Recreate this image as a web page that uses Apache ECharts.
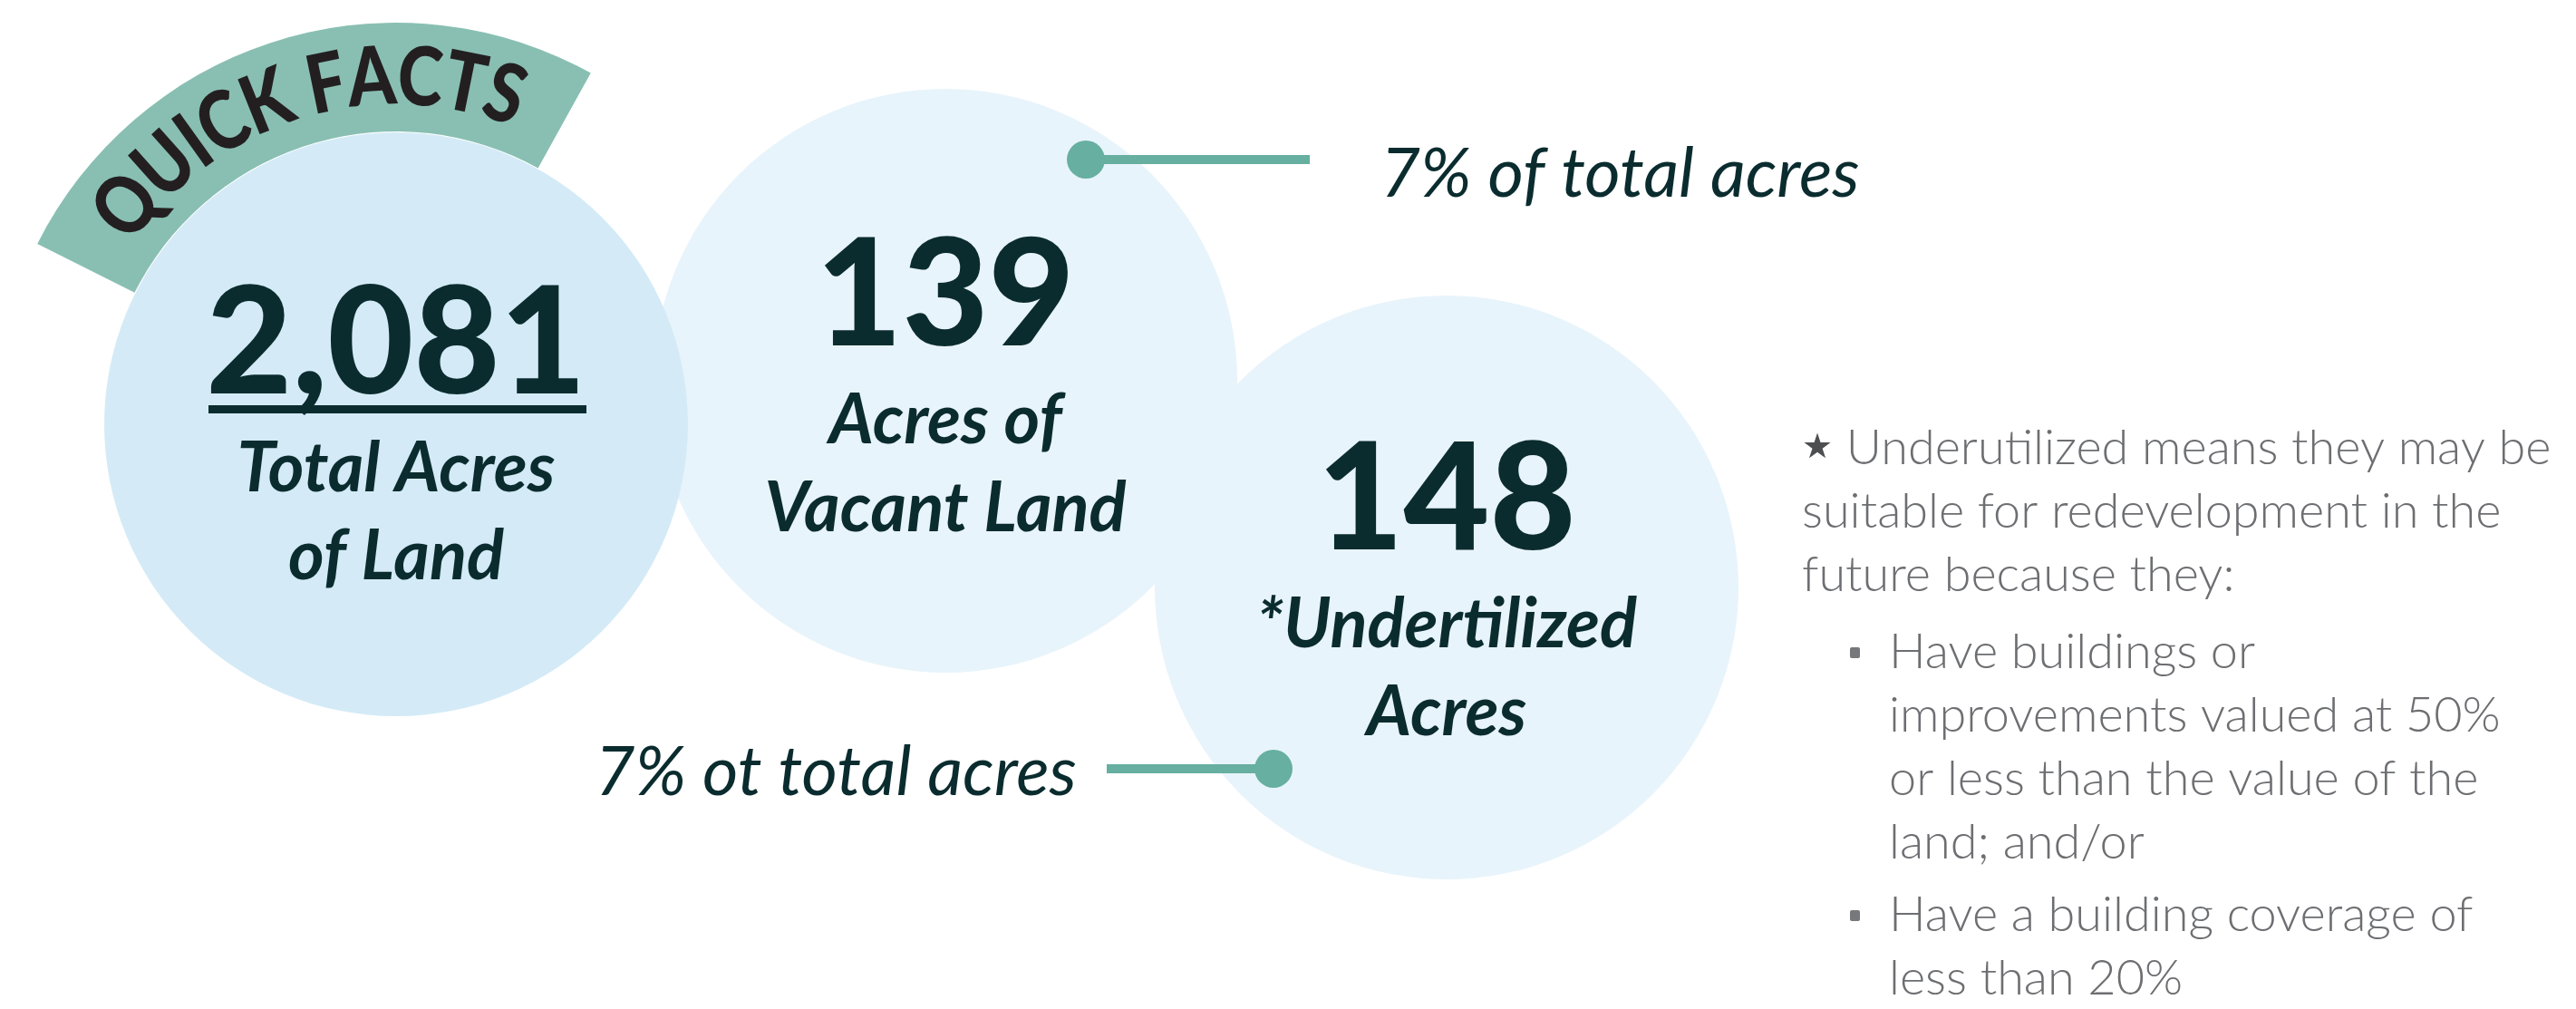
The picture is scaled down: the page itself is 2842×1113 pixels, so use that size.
<!DOCTYPE html>
<html>
<head>
<meta charset="utf-8">
<title>Quick Facts</title>
<script src="https://cdn.jsdelivr.net/npm/echarts@6/dist/echarts.min.js"></script>
<style>
  html, body { margin: 0; padding: 0; background: #ffffff; }
  #quickFacts { width: 2842px; height: 1113px; }
</style>
</head>
<body>
<div id="quickFacts"></div>
<script>
// the facts
var factValues = [2081, 139, 148]
var factLabels = [['Total Acres', 'of Land'], ['Acres of', 'Vacant Land'], ['*Undertilized', 'Acres']]
var shareLabels = ['7% of total acres', '7% ot total acres']
var badgeText = 'QUICK FACTS'
var noteIntro = ['Underutilized means they may be', 'suitable for redevelopment in the', 'future because they:']
var noteBullets = [
  ['Have buildings or', 'improvements valued at 50%', 'or less than the value of the', 'land; and/or'],
  ['Have a building coverage of', 'less than 20%']
]

var W = 2842
var H = 1113
var dark = '#0b2c2f'
var teal = '#67afa0'
var noteGrey = '#6d6e71'

// layout (pixel space: axes run 0..W and 0..H)
var bubbleR = 322
var bubblePos = [[437, 468], [1043, 420], [1596, 648]]
var bubbleFill = ['#d4ebf7', '#e8f4fb', '#e8f4fb']
var labelShift = [10, 5, 2]
var connectors = [
  { from: [1198, 176], to: [1445, 176], text: [1523, 192], side: 'right' },
  { from: [1405, 848], to: [1221, 848], text: [1188, 852], side: 'left' }
]

var chart = echarts.init(document.getElementById('quickFacts'))

function bubbleItem (i) {
  var num = echarts.format.addCommas(factValues[i])
  var lines = factLabels[i].map(function (t) { return '{lbl|' + t + '}' })
  return {
    value: bubblePos[i],
    itemStyle: { color: bubbleFill[i], opacity: 1 },
    label: {
      show: true,
      position: 'inside',
      offset: [0, labelShift[i]],
      formatter: ['{num|' + num + '}'].concat(lines).join('\n'),
      rich: {
        num: { fontFamily: 'Lato', fontWeight: 900, fontSize: 164, lineHeight: 175, color: dark, align: 'center' },
        lbl: { fontFamily: 'Lato', fontStyle: 'italic', fontWeight: 700, fontSize: 76, lineHeight: 97, color: dark, align: 'center' }
      }
    }
  }
}

// circle 1 sits on top of the other two
var bubbles = [bubbleItem(1), bubbleItem(2), bubbleItem(0)]

// curved badge text
var badgeC = bubblePos[0]
var badgeFont = '900 90px Lato'
var ctx = document.createElement('canvas').getContext('2d')
ctx.font = badgeFont
var widths = badgeText.split('').map(function (ch) { return ctx.measureText(ch).width })
var centers = []
var acc = 0
widths.forEach(function (w) { centers.push(acc + w / 2); acc += w })
var a0 = 141
var a1 = 71.7
var badgeLetters = []
badgeText.split('').forEach(function (ch, i) {
  if (ch === ' ') return
  var t = (centers[i] - centers[0]) / (centers[centers.length - 1] - centers[0])
  var deg = a0 + (a1 - a0) * t
  var rad = deg * Math.PI / 180
  badgeLetters.push({
    type: 'text',
    x: badgeC[0] + 382 * Math.cos(rad),
    y: badgeC[1] - 382 * Math.sin(rad),
    rotation: (deg - 90) * Math.PI / 180,
    scaleX: 0.84,
    z: 101,
    style: { text: ch, font: badgeFont, fill: '#231f20', align: 'center', verticalAlign: 'middle' }
  })
})

// footnote text
var noteEls = []
var ny = 495
noteIntro.forEach(function (line, i) {
  noteEls.push({
    type: 'text', x: 1988, y: ny, z: 100,
    style: {
      text: i === 0 ? '{star|★} ' + line : line,
      font: '300 54px Lato', fill: noteGrey, verticalAlign: 'middle',
      rich: { star: { fontSize: 38, fontFamily: 'DejaVu Sans', fill: '#4d4e50', verticalAlign: 'middle' } }
    }
  })
  ny += 70
})
ny += 15
noteBullets.forEach(function (group) {
  group.forEach(function (line, j) {
    if (j === 0) {
      noteEls.push({ type: 'rect', z: 100, shape: { x: 2041, y: ny - 6, width: 11, height: 12, r: 2 }, style: { fill: '#77787b' } })
    }
    noteEls.push({
      type: 'text', x: 2084, y: ny, z: 100,
      style: { text: line, font: '300 54px Lato', fill: noteGrey, verticalAlign: 'middle' }
    })
    ny += 70
  })
  ny += 10
})

var option = {
  animation: false,
  grid: { left: 0, right: 0, top: 0, bottom: 0 },
  xAxis: { type: 'value', min: 0, max: W, show: false },
  yAxis: { type: 'value', min: 0, max: H, inverse: true, show: false },
  series: [
    {
      type: 'scatter',
      silent: true,
      symbol: 'circle',
      symbolSize: bubbleR * 2,
      itemStyle: { opacity: 1 },
      data: bubbles,
      z: 2
    },
    {
      type: 'lines',
      coordinateSystem: 'cartesian2d',
      silent: true,
      lineStyle: { color: teal, width: 10, opacity: 1 },
      data: connectors.map(function (c) { return { coords: [c.from, c.to] } }),
      z: 3
    },
    {
      type: 'scatter',
      silent: true,
      symbol: 'circle',
      symbolSize: 42,
      itemStyle: { color: teal, opacity: 1 },
      data: connectors.map(function (c) { return c.from }),
      z: 4
    },
    {
      type: 'scatter',
      silent: true,
      symbolSize: 0,
      itemStyle: { opacity: 1 },
      data: connectors.map(function (c, i) {
        return {
          value: c.text,
          label: {
            show: true,
            position: c.side === 'right' ? 'right' : 'left',
            distance: 0,
            formatter: shareLabels[i],
            fontFamily: 'Lato',
            fontStyle: 'italic',
            fontWeight: 400,
            fontSize: 76,
            color: dark
          }
        }
      }),
      z: 4
    }
  ],
  graphic: [
    {
      type: 'group',
      children: [
        {
          type: 'sector',
          z: 100,
          shape: {
            cx: badgeC[0], cy: badgeC[1], r0: 323, r: 443,
            startAngle: -153.3 * Math.PI / 180,
            endAngle: -61 * Math.PI / 180,
            clockwise: true
          },
          style: { fill: '#89bfb2' }
        },
        {
          // underline beneath the total
          type: 'rect',
          z: 100,
          shape: { x: 230, y: 447, width: 417, height: 9 },
          style: { fill: dark }
        }
      ].concat(badgeLetters).concat(noteEls)
    }
  ]
}

chart.setOption(option)
window.addEventListener('resize', function () {
  chart.resize()
})
</script>
</body>
</html>
